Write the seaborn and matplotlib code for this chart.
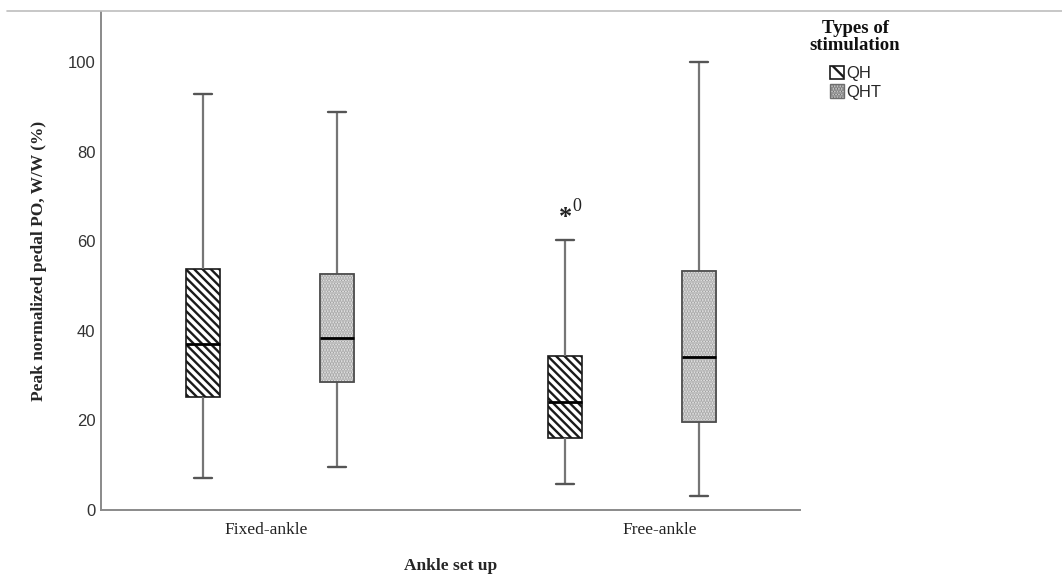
import numpy as np
import pandas as pd
import matplotlib
matplotlib.use("Agg")
import matplotlib.pyplot as plt
from matplotlib.patches import Patch, PathPatch
from matplotlib.lines import Line2D
import seaborn as sns

# ---- data (five-number summaries) ----
setups = ["Fixed-ankle", "Free-ankle"]
stimulations = ["QH", "QHT"]
# order: min, Q1, median, Q3, max
fixed_qh = [7.1, 25.3, 37.0, 53.8, 93.0]
fixed_qht = [9.6, 28.6, 38.4, 52.7, 88.8]
free_qh = [5.8, 16.1, 24.1, 34.4, 60.3]
free_qht = [3.1, 19.6, 34.2, 53.3, 100.0]
outlier_setup = "Free-ankle"
outlier_stim = "QH"
outlier_value = 65.4
outlier_label = "0"
yticks = [0, 20, 40, 60, 80, 100]
legend_title = "Types of\nstimulation"

rows = []
for setup, stim, vals in [("Fixed-ankle", "QH", fixed_qh), ("Fixed-ankle", "QHT", fixed_qht),
                          ("Free-ankle", "QH", free_qh), ("Free-ankle", "QHT", free_qht)]:
    for v in vals:
        rows.append({"setup": setup, "stim": stim, "value": v})
df = pd.DataFrame(rows)

sns.set_theme(style="white")
plt.rcParams["font.family"] = ["Liberation Serif", "DejaVu Serif"]
plt.rcParams["hatch.linewidth"] = 1.7

fig = plt.figure(figsize=(10.62, 5.83), dpi=100)
ax = fig.add_axes([101 / 1062, 1 - 510 / 583, (800 - 101) / 1062, (510 - 12) / 583])

face_qh = "#ffffff"
face_qht = "#efefef"
sns.boxplot(data=df, x="setup", y="value", hue="stim", order=setups, hue_order=stimulations,
            palette={"QH": face_qh, "QHT": face_qht}, saturation=1, whis=np.inf,
            width=0.74, gap=0.746, linewidth=1.2, linecolor="#2a2a2a", legend=False,
            whiskerprops=dict(color="#767676", linewidth=1.6),
            capprops=dict(color="#555555", linewidth=1.7),
            medianprops=dict(color="#000000", linewidth=2.0), ax=ax)

for p in list(ax.patches):
    fc = p.get_facecolor()
    if fc[0] > 0.99:
        p.set_hatch("\\\\\\\\")
        p.set_edgecolor("#1a1a1a")
    else:
        p.set_hatch("......")
        p.set_edgecolor("#a0a0a0")
        # dark outline on top of the light stipple
        ax.add_patch(PathPatch(p.get_path(), transform=p.get_transform(), facecolor="none",
                               edgecolor="#4a4a4a", linewidth=1.2, zorder=p.get_zorder() + 0.1))

# shorten caps slightly
for ln in ax.lines:
    xd = np.asarray(ln.get_xdata(), dtype=float)
    yd = np.asarray(ln.get_ydata(), dtype=float)
    if len(xd) == 2 and yd[0] == yd[1] and ln.get_linewidth() == 1.7:
        c = xd.mean()
        ln.set_xdata([c - 0.025, c + 0.025])
    if ln.get_linewidth() == 2.0:
        ln.set_zorder(5)

ax.set_xlim(-0.467, 1.464)
ax.set_ylim(0, 111.2)
ax.set_yticks(yticks)
ax.set_yticklabels([str(t) for t in yticks], family=["Liberation Sans", "DejaVu Sans"],
                   fontsize=12, color="#333333")
ax.set_xticks([-0.011, 1.077])
ax.set_xticklabels(setups, fontsize=12.5, color="#222222")
ax.tick_params(axis="both", length=0)
ax.tick_params(axis="y", pad=4)
ax.tick_params(axis="x", pad=9)

for s in ["top", "right"]:
    ax.spines[s].set_visible(False)
for s in ["left", "bottom"]:
    ax.spines[s].set_color("#8a8a8a")
    ax.spines[s].set_linewidth(1.4)

ax.set_xlabel("Ankle set up", fontsize=12.5, fontweight="bold", labelpad=14)
ax.set_ylabel("Peak normalized pedal PO, W/W (%)", fontsize=12.5, fontweight="bold", labelpad=15)

# outlier marker
xi = setups.index(outlier_setup) + (-0.185 if outlier_stim == "QH" else 0.185)
ax.text(xi, outlier_value, "*", ha="center", va="center", fontsize=19, fontweight="bold",
        color="#222222")
ax.text(xi + 0.033, outlier_value + 2.3, outlier_label, ha="center", va="center", fontsize=13,
        color="#222222")

# legend
fig.text(855 / 1062, 1 - 37 / 583, legend_title, ha="center", va="center", fontsize=13.5,
         fontweight="bold", linespacing=0.95, color="#111111")
handles = [Patch(facecolor=face_qh, edgecolor="#1a1a1a", hatch="\\\\", linewidth=1.2),
           Patch(facecolor="#dcdcdc", edgecolor="#6e6e6e", hatch="......", linewidth=1.0)]
leg = fig.legend(handles, stimulations, loc="upper left",
                 bbox_to_anchor=(818 / 1062, 1 - 54 / 583), frameon=False,
                 handlelength=0.85, handleheight=0.85, handletextpad=0.15, labelspacing=0.2,
                 borderpad=0.2, prop={"family": ["Liberation Sans", "DejaVu Sans"], "size": 12})

fig.add_artist(Line2D([7 / 1062, 1.0], [1 - 11 / 583] * 2, color="#bdbdbd", linewidth=1.2,
                      transform=fig.transFigure))

fig.savefig("out.png", dpi=100)
